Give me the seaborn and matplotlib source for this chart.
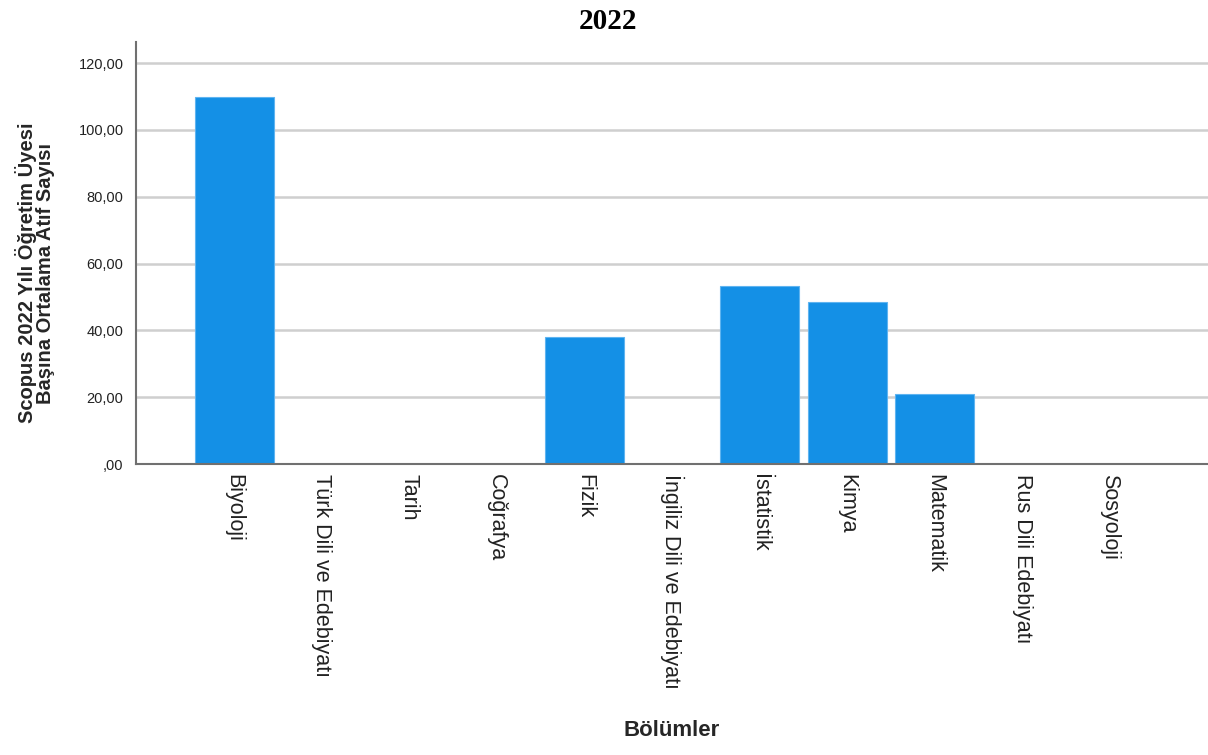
import numpy as np
import pandas as pd
import matplotlib
matplotlib.use("Agg")
import matplotlib.pyplot as plt
import seaborn as sns
from matplotlib.ticker import FuncFormatter, MultipleLocator

# departments and their mean citation per faculty member (Scopus 2022)
bolumler = ["Biyoloji", "Türk Dili ve Edebiyatı", "Tarih", "Coğrafya", "Fizik",
            "İngiliz Dili ve Edebiyatı", "İstatistik", "Kimya", "Matematik",
            "Rus Dili Edebiyatı", "Sosyoloji"]
atif = [109.8, 0, 0, 0, 37.9, 0, 53.4, 48.5, 21.1, 0, 0]

df = pd.DataFrame({"bolum": bolumler, "atif": atif})

sns.set_style("white")
plt.rcParams["font.family"] = ["Liberation Sans", "DejaVu Sans"]

fig = plt.figure(figsize=(12.08, 7.55), dpi=100)
ax = fig.add_axes([0.1126, 0.3854, 0.8874, 0.559])

sns.barplot(data=df, x="bolum", y="atif", color="#1490e6", width=0.9,
            saturation=1, edgecolor="#5fb4f0", linewidth=0.8, ax=ax)

ax.set_xlim(-1.12, 10.12 + 1.0)
ax.set_ylim(0, 126.3)
ax.yaxis.set_major_locator(MultipleLocator(20))


def fmt(v, pos):
    s = f"{v:.2f}".replace(".", ",")
    if s.startswith("0,"):
        s = s[1:]
    return s


ax.yaxis.set_major_formatter(FuncFormatter(fmt))
ax.grid(axis="y", color="#cfcfcf", linewidth=1.8)
ax.set_axisbelow(True)

for side in ["top", "right"]:
    ax.spines[side].set_visible(False)
for side in ["left", "bottom"]:
    ax.spines[side].set_color("#707070")
    ax.spines[side].set_linewidth(1.5)

ax.tick_params(axis="y", length=0, pad=9, labelsize=10.5, labelcolor="#222222")
ax.tick_params(axis="x", length=0, pad=7, labelsize=15.5, labelcolor="#222222")
for lab in ax.get_xticklabels():
    lab.set_rotation(-90)
    lab.set_va("top")
    lab.set_ha("center")

ax.set_ylabel("Scopus 2022 Yılı Öğretim Üyesi\nBaşına Ortalama Atıf Sayısı",
              fontsize=14.5, fontweight="bold", linespacing=0.9)
ax.yaxis.set_label_coords(-0.0756, 0.4526)
ax.set_xlabel("Bölümler", fontsize=16, fontweight="bold")
ax.xaxis.set_label_coords(0.5, -0.607)

fig.suptitle("2022", x=0.503, y=0.99, fontsize=21, fontweight="bold",
             family="Liberation Serif", color="black")

fig.savefig("out.png", dpi=100)
